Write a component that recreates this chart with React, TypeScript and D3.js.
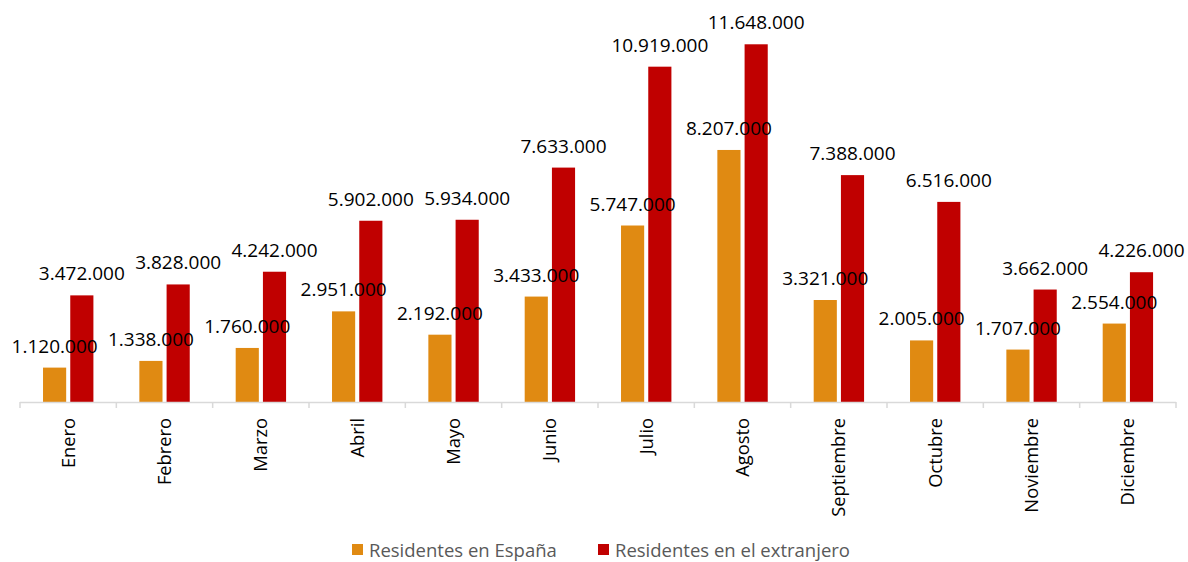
import React from 'react';
import * as d3 from 'd3';

const months = ['Enero', 'Febrero', 'Marzo', 'Abril', 'Mayo', 'Junio', 'Julio', 'Agosto', 'Septiembre', 'Octubre', 'Noviembre', 'Diciembre'];
const residentesEspana = [1120000, 1338000, 1760000, 2951000, 2192000, 3433000, 5747000, 8207000, 3321000, 2005000, 1707000, 2554000];
const residentesExtranjero = [3472000, 3828000, 4242000, 5902000, 5934000, 7633000, 10919000, 11648000, 7388000, 6516000, 3662000, 4226000];
const seriesNames = ['Residentes en España', 'Residentes en el extranjero'];
const seriesColors = ['#E08A12', '#C00000'];

const width = 1188;
const height = 562;
const font = '"Open Sans", sans-serif';

const fmt = (v: number) => d3.format(',')(v).replace(/,/g, '.');

const App = () => {
  const x = d3.scaleBand<string>().domain(months).range([20, 1176]);
  const bw = x.bandwidth();
  const x1 = d3.scaleBand<string>().domain(seriesNames).range([bw * 0.239, bw * 0.762]).paddingInner(0.15);
  const y = d3.scaleLinear().domain([0, 12000000]).range([402, 402 - 12 * 30.71]);
  const series = [residentesEspana, residentesExtranjero];

  return (
    <svg width={width} height={height} style={{ position: 'absolute', left: 0, top: 0, background: '#fff' }}>
      {series.map((vals, si) => (
        <g key={si}>
          {months.map((m, i) => {
            const bx = (x(m) ?? 0) + (x1(seriesNames[si]) ?? 0);
            return (
              <rect key={m} x={bx} y={y(vals[i])} width={x1.bandwidth()} height={y(0) - y(vals[i])} fill={seriesColors[si]} />
            );
          })}
        </g>
      ))}
      {series.map((vals, si) => (
        <g key={'l' + si}>
          {months.map((m, i) => {
            const cx = (x(m) ?? 0) + (x1(seriesNames[si]) ?? 0) + x1.bandwidth() / 2;
            return (
              <text key={m} x={cx} y={y(vals[i]) - 15} textAnchor="middle" fontFamily={font} fontSize={19} fill="#000">
                {fmt(vals[i])}
              </text>
            );
          })}
        </g>
      ))}
      <line x1={20} x2={1176} y1={402.5} y2={402.5} stroke="#d9d9d9" strokeWidth={1.5} />
      {d3.range(months.length + 1).map((i) => {
        const tx = 20 + i * bw;
        return <line key={i} x1={tx} x2={tx} y1={402} y2={408} stroke="#d9d9d9" strokeWidth={1.5} />;
      })}
      {months.map((m) => {
        const cx = (x(m) ?? 0) + bw / 2;
        return (
          <text key={m} transform={`translate(${cx},418) rotate(-90)`} textAnchor="end" dy="0.35em" fontFamily={font} fontSize={18.3} fill="#000">
            {m}
          </text>
        );
      })}
      {seriesNames.map((s, si) => {
        const lx = si === 0 ? 352 : 598;
        return (
          <g key={s}>
            <rect x={lx} y={544} width={11} height={11} fill={seriesColors[si]} />
            <text x={lx + 17} y={556.5} fontFamily={font} fontSize={18.5} fill="#595959">
              {s}
            </text>
          </g>
        );
      })}
    </svg>
  );
};

export default App;
